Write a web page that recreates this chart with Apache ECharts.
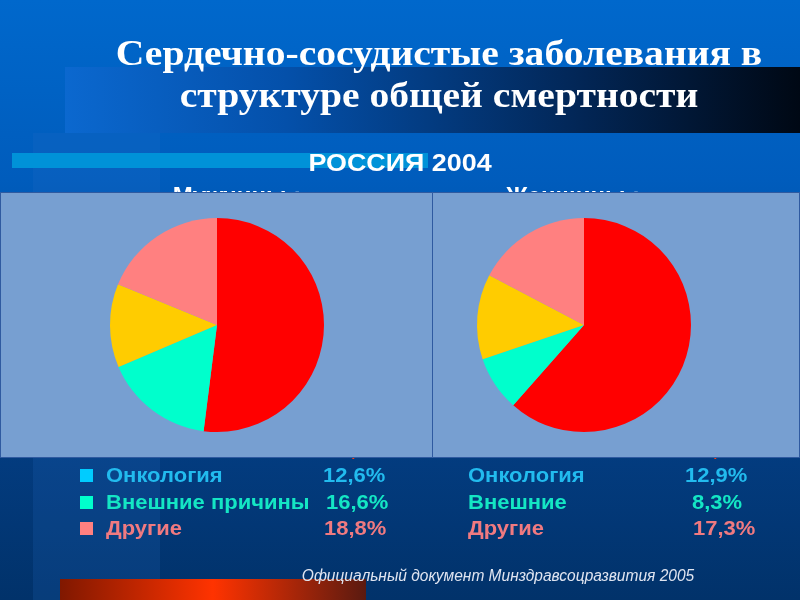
<!DOCTYPE html>
<html><head><meta charset="utf-8">
<script src="https://cdn.jsdelivr.net/npm/echarts/dist/echarts.min.js"></script>
<style>html,body{margin:0;padding:0;background:#0058b0;overflow:hidden}#c{width:800px;height:600px}</style>
</head><body><div id="c"></div>
<script>
// ---- data ----
const menLabels = ['ССЗ', 'Онкология', 'Внешние причины', 'Другие'];
const womenLabels = ['ССЗ', 'Онкология', 'Внешние', 'Другие'];
const menValues = [52.0, 12.6, 16.6, 18.8];
const womenValues = [61.5, 12.9, 8.3, 17.3];
const pieOrder = [0, 2, 1, 3]; // order of slices clockwise from top
const titleLines = ['Сердечно-сосудистые заболевания в', 'структуре общей смертности'];
const subtitle = 'РОССИЯ 2004';
const groupNames = ['Мужчины :', 'Женщины :'];
const sourceText = 'Официальный документ Минздравсоцразвития 2005';

// ---- styles ----
const pieColors = ['#ff0000', '#ffcc00', '#00ffcc', '#ff8080'];
const legendTextColors = ['#ff3a10', '#22bbee', '#14e6c4', '#f07a80'];
const legendSquareColors = ['#ff0000', '#00ccff', '#00ffcc', '#ff8080'];
const rowY = [450, 476, 503, 529];
const menPctX = [326, 323, 326, 324];
const womenPctX = [688, 685, 692, 693];
const SX = 1.1; // horizontal stretch of the original slide text

function fmt(v) { return v.toFixed(1).replace('.', ',') + '%'; }
function txt(x, y, text, fill, font, align, z, sx) {
  return { type: 'text', z: z || 3, x: x, y: y, scaleX: sx || SX,
    style: { text: text, fill: fill, font: font, textAlign: align || 'left', textVerticalAlign: 'middle' } };
}

const chart = echarts.init(document.getElementById('c'), null, { renderer: 'canvas' });
const SANS = '"Liberation Sans", Arial, sans-serif';

const g = [];
// background
g.push({ type: 'rect', z: 0, shape: { x: 0, y: 0, width: 800, height: 600 },
  style: { fill: { type: 'linear', x: 0, y: 0, x2: 0, y2: 1, colorStops: [
    { offset: 0, color: '#0068cc' }, { offset: 0.3, color: '#005cbc' },
    { offset: 0.75, color: '#033c80' }, { offset: 1, color: '#01326a' }] } } });
// left lighter strip
g.push({ type: 'rect', z: 1, shape: { x: 33, y: 133, width: 127, height: 467 },
  style: { fill: 'rgba(40,110,200,0.18)' } });
// title bar
g.push({ type: 'rect', z: 1, shape: { x: 65, y: 67, width: 735, height: 66 },
  style: { fill: { type: 'linear', x: 0, y: 0, x2: 1, y2: 0, colorStops: [
    { offset: 0, color: '#0b68cf' }, { offset: 0.3, color: '#0450aa' },
    { offset: 0.7, color: '#022656' }, { offset: 1, color: '#000814' }] } } });
// light bar
g.push({ type: 'rect', z: 1, shape: { x: 12, y: 153, width: 416, height: 15 },
  style: { fill: '#0092d8' } });
// bottom orange bar
g.push({ type: 'rect', z: 1, shape: { x: 60, y: 579, width: 306, height: 21 },
  style: { fill: { type: 'linear', x: 0, y: 0, x2: 1, y2: 0, colorStops: [
    { offset: 0, color: '#801800' }, { offset: 0.5, color: '#ff3300' },
    { offset: 1, color: '#5a1a10' }] } } });
// title
titleLines.forEach((t, i) => g.push(txt(439, i === 0 ? 56 : 98, t, '#ffffff',
  'bold 36px "Liberation Serif", "DejaVu Serif", serif', 'center')));
// subtitle
g.push(txt(400, 164, subtitle, '#ffffff', 'bold 24px ' + SANS, 'center', 3, 1.12));
// group names (partly hidden behind panels)
[237, 573].forEach((x, i) => g.push(txt(x, 197, groupNames[i], '#ffffff', 'bold 24px ' + SANS, 'center', 3, 1.0)));
// legends
menLabels.forEach((name, i) => {
  g.push({ type: 'rect', z: 3, shape: { x: 80, y: rowY[i] - 7, width: 13, height: 13 },
    style: { fill: legendSquareColors[i] } });
  g.push(txt(106, rowY[i], name, legendTextColors[i], 'bold 20px ' + SANS));
  g.push(txt(menPctX[i], rowY[i], fmt(menValues[i]), legendTextColors[i], 'bold 20px ' + SANS));
});
womenLabels.forEach((name, i) => {
  g.push(txt(468, rowY[i], name, legendTextColors[i], 'bold 20px ' + SANS));
  g.push(txt(womenPctX[i], rowY[i], fmt(womenValues[i]), legendTextColors[i], 'bold 20px ' + SANS));
});
// panels
g.push({ type: 'rect', z: 5, shape: { x: 0.5, y: 192.5, width: 432, height: 265 },
  style: { fill: '#779fd1', stroke: '#2f5aa0', lineWidth: 1 } });
g.push({ type: 'rect', z: 5, shape: { x: 432.5, y: 192.5, width: 367, height: 265 },
  style: { fill: '#779fd1', stroke: '#2f5aa0', lineWidth: 1 } });
// source
g.push(txt(498, 577, sourceText, '#dfe4f0', 'italic 16px ' + SANS, 'center', 3, 0.97));

function pieData(labels, values) {
  return pieOrder.map(i => ({ name: labels[i], value: values[i], itemStyle: { color: pieColors[i] } }));
}

chart.setOption({
  animation: false,
  graphic: { elements: g },
  series: [
    { type: 'pie', z: 10, center: [217, 325], radius: [0, 107], startAngle: 90, clockwise: true,
      label: { show: false }, labelLine: { show: false }, silent: true,
      itemStyle: { borderWidth: 0 }, data: pieData(menLabels, menValues) },
    { type: 'pie', z: 10, center: [584, 325], radius: [0, 107], startAngle: 90, clockwise: true,
      label: { show: false }, labelLine: { show: false }, silent: true,
      itemStyle: { borderWidth: 0 }, data: pieData(womenLabels, womenValues) }
  ]
});
</script></body></html>
